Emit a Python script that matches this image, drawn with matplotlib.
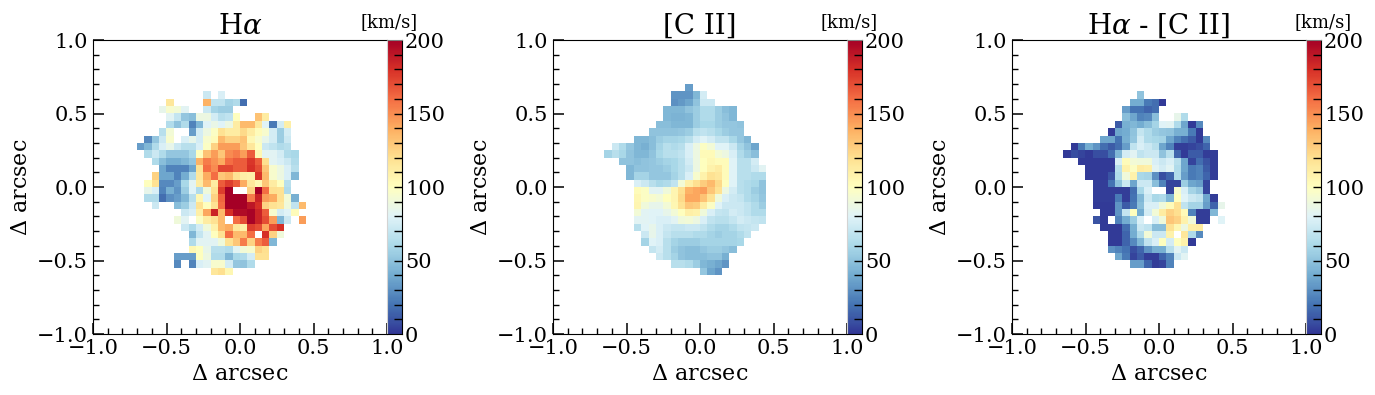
import matplotlib
matplotlib.use("Agg")
import matplotlib.pyplot as plt
import numpy as np

plt.rcParams["font.family"] = "DejaVu Serif"
plt.rcParams["mathtext.fontset"] = "dejavuserif"

n = np.nan
N_CELLS = 40

# row from top -> (first column, velocity dispersion in km/s)
halpha_rows = {
    7: (15, [72, n, 78]),
    8: (10, [115, n, n, n, n, 138, 68, 68, 58, 62, 18]),
    9: (9, [85, 95, 92, 82, n, n, 72, 58, 55, 55]),
    10: (10, [82, 70, 52, 48, 88, 88, 75, 65, 68, 100, n, n, 132, 112]),
    11: (10, [63, 50, 62, 25, 45, 80, 86, 80, 88, 112, 135, 135, 115, 80, 22, 75, 110]),
    12: (9, [65, 92, n, n, 35, 75, 88, 98, 118, 112, 112, 122, 112, 102, 95, 75, 55, 75]),
    13: (7, [28, 52, 72, 95, n, 78, 85, 75, 95, 102, 135, 125, 125, 132, 105, 95, 85, 75, 55, 72]),
    14: (6, [35, 45, 62, 78, 85, 72, 65, 65, 78, 98, 125, 145, 145, 145, 130, 115, 100, 72, 68, 62, 65]),
    15: (7, [62, 72, 62, 52, 52, 52, 60, 100, 132, 145, 130, 150, 155, 145, 165, 105, 82, 82, 75, 62, 60]),
    16: (8, [62, 48, 40, 40, 45, 52, 138, 155, 148, 140, 160, 165, 165, 178, 165, 120, 82, 78, 72, 62]),
    17: (9, [38, 25, 25, 25, 38, 118, 160, 150, 172, 172, 165, 165, 180, 170, 130, 95, 88, 78, 65]),
    18: (8, [125, 38, 38, 25, 40, 62, 115, 140, 160, 130, 135, 118, 110, 108, 178, 135, 95, 88, 78, 45]),
    19: (7, [100, 118, 28, 28, 35, 60, 82, 112, 135, 112, 165, 175, 165, 140, 115, 105, 130, 112, 100, 65]),
    20: (7, [85, 78, 25, 42, 32, 55, 80, 62, 90, 118, 175, 200, n, n, 125, 200, 160, 120, 118, 62]),
    21: (7, [62, 62, 18, 30, 35, 45, 65, 105, 80, 125, 162, 200, 200, 200, 155, 185, 145, 140, 118, 92, 42]),
    22: (8, [72, n, n, 48, 55, 72, 118, 100, 118, 160, 200, 200, 200, 190, 180, 125, 118, 115, 90, 68, 135]),
    23: (12, [72, 78, 110, 142, 185, 135, 180, 195, 195, 198, 185, 165, 95, 75, 80, 102]),
    24: (11, [90, 82, n, 98, 112, 118, 135, n, 160, 170, 198, 185, 170, 145, 45, 72, n, 145]),
    25: (12, [72, 62, 75, 90, 108, 135, 140, 115, 110, 175, 170, 142, 170, 180]),
    26: (13, [45, 70, 82, 100, 118, 160, 135, 135, 160, n, 180, 125, 90]),
    27: (13, [62, 82, 82, 82, 90, 118, 130, 155, 125, 155, 165, 45]),
    28: (13, [105, 100, 85, 65, 65, 62, 82, 92, 95, 125, 120]),
    29: (11, [35, 35, 35, 100, 88, 62, 62, 45, 60, 62, 75, 118, 118]),
    30: (11, [28, n, 25, 78, 82, 95, 95, 75, 52, 50, 62]),
    31: (16, [115, 120, 105]),
}

cii_rows = {
    6: (18, [35]),
    7: (16, [32, 32, 32, 45, 75]),
    8: (16, [30, 33, 38, 50, 72, 72]),
    9: (15, [45, 45, 45, 50, 55, 62, 62, 55, 48, 45]),
    10: (15, [45, 43, 43, 45, 55, 62, 62, 55, 50, 45]),
    11: (14, [48, 48, 45, 45, 45, 55, 60, 60, 55, 52, 52, 50]),
    12: (13, [50, 50, 50, 50, 52, 55, 65, 68, 65, 60, 55, 52, 52]),
    13: (11, [45, 45, 48, 55, 58, 58, 60, 65, 75, 80, 75, 68, 68, 60, 52, 45]),
    14: (8, [72, 62, 52, 45, 42, 48, 58, 65, 62, 65, 78, 88, 98, 92, 80, 80, 72, 58, 50, 38]),
    15: (7, [58, 65, 60, 50, 45, 45, 50, 60, 65, 65, 68, 78, 88, 103, 103, 92, 88, 78, 62, 55, 48]),
    16: (9, [50, 50, 48, 50, 52, 55, 58, 60, 65, 75, 88, 100, 105, 102, 102, 80, 65, 65, 75]),
    17: (10, [45, 50, 50, 52, 52, 55, 60, 65, 72, 88, 100, 108, 112, 102, 80, 65, 65, 72, 82]),
    18: (10, [45, 58, 58, 52, 52, 52, 58, 65, 78, 95, 108, 118, 115, 102, 80, 65, 65, 62, 62]),
    19: (11, [78, 72, 65, 60, 62, 68, 92, 110, 120, 128, 135, 122, 100, 80, 65, 62, 60, 50]),
    20: (11, [102, 98, 82, 82, 90, 106, 120, 138, 142, 145, 130, 118, 88, 75, 65, 62, 55, 50]),
    21: (11, [105, 98, 95, 92, 100, 106, 122, 142, 142, 132, 118, 90, 78, 72, 70, 62, 58, 52]),
    22: (11, [106, 90, 85, 85, 92, 105, 118, 130, 128, 112, 98, 80, 72, 72, 72, 68, 62, 55]),
    23: (11, [92, 82, 80, 80, 85, 92, 100, 110, 108, 90, 78, 70, 68, 75, 72, 68, 62, 62]),
    24: (11, [82, 82, 80, 78, 78, 82, 90, 92, 88, 78, 68, 65, 65, 70, 75, 72, 70, 68]),
    25: (11, [65, 80, 85, 78, 72, 70, 70, 72, 72, 68, 62, 58, 58, 62, 68, 70, 72]),
    26: (12, [72, 85, 78, 70, 65, 65, 65, 62, 62, 58, 55, 58, 58, 62, 68]),
    27: (12, [58, 80, 78, 65, 58, 55, 55, 55, 58, 58, 58, 58, 58, 60]),
    28: (13, [70, 75, 65, 55, 50, 48, 48, 52, 55, 55, 52, 48]),
    29: (14, [72, 65, 58, 50, 48, 48, 48, 50, 50, 42]),
    30: (16, [65, 65, 62, 55, 45, 42, 38, 32]),
    31: (20, [52, 38, 32]),
}

diff_rows = {
    7: (17, [50]),
    8: (16, [40, 40, 22, 18, 2]),
    9: (15, [35, 20, 20, 15, 18]),
    10: (15, [48, 38, 25, 28, 48, n, n, 85, 62]),
    11: (14, [12, 42, 45, 40, 48, 58, 80, 82, 62, 38, 2, 28]),
    12: (13, [2, 38, 40, 50, 70, 62, 55, 52, 50, 42, 42, 22, 2]),
    13: (12, [38, 38, 20, 42, 52, 75, 62, 60, 58, 38, 25, 18, 12, 2, 28]),
    14: (8, [2, 22, 40, 32, 18, 12, 18, 35, 68, 78, 72, 65, 38, 25, 3, 3, 5, 8, 15]),
    15: (7, [2, 8, 5, 2, 8, 8, 18, 45, 75, 82, 68, 72, 72, 50, 65, 15, 2, 12, 12, 3, 3]),
    16: (9, [2, 2, 2, 2, 2, 78, 102, 92, 90, 90, 78, 72, 78, 65, 38, 5, 18, 10, 3]),
    17: (10, [2, 2, 2, 2, 65, 108, 98, 112, 110, 82, 75, 82, 62, 38, 22, 25, 12, 3]),
    18: (10, [2, 2, 2, 10, 62, 90, 108, 60, 58, 30, 8, 15, 62, 35, 22, 25, 15, 3]),
    19: (11, [3, 3, 20, 50, 72, 38, 72, 72, 48, 25, 5, 5, 55, 38, 35, 5]),
    20: (11, [3, 3, 3, 3, 3, 18, 60, 78, n, n, 5, 95, 78, 58, 52, 5]),
    21: (11, [3, 3, 3, 22, 3, 20, 45, 72, 60, 62, 45, 100, 80, 72, 68, 38, 3]),
    22: (11, [2, 2, 2, 32, 12, 22, 48, 78, 78, 90, 102, 118, 68, 58, 58, 35, 15, 85]),
    23: (12, [2, 2, 32, 70, 100, 40, 75, 92, 112, 125, 120, 103, 25, 3, 3, 45]),
    24: (11, [10, 2, n, 25, 40, 55, 78, n, 78, 90, 130, 125, 108, 90, 3, 3, n, 80]),
    25: (12, [2, 2, 2, 18, 42, 72, 68, 48, 48, 118, 105, 88, 110, 112]),
    26: (13, [2, 2, 15, 40, 62, 92, 72, 72, 108, n, 115, 62, 28]),
    27: (13, [2, 2, 15, 28, 45, 68, 78, 100, 75, 100, 108, 2]),
    28: (13, [30, 25, 20, 8, 15, 32, 42, 42, 65, 82, 72]),
    29: (14, [38, 22, 5, 12, 3, 3, 15, 25, 72, 82]),
    30: (16, [35, 35, 15, 3, 5, 25]),
}

titles = [r"H$\alpha$", "[C II]", r"H$\alpha$ - [C II]"]
panels = [halpha_rows, cii_rows, diff_rows]
ax_lefts = [93, 553, 1012]  # px
unit_x = [0.2, 0.2, 1.17]  # [km/s] position in colorbar axes fraction
W, H = 1375, 395


def to_grid(rows):
    grid = np.full((N_CELLS, N_CELLS), np.nan)
    for r, (start, vals) in rows.items():
        grid[r, start:start + len(vals)] = vals
    return grid


fig = plt.figure(figsize=(W / 100, H / 100), dpi=100)

for rows, title, left, ux in zip(panels, titles, ax_lefts, unit_x):
    ax = fig.add_axes([left / W, (H - 334) / H, 294 / W, 294 / H])
    cax = fig.add_axes([(left + 293.5) / W, (H - 334) / H, 15 / W, 294 / H])

    im = ax.imshow(to_grid(rows), cmap="RdYlBu_r", vmin=0, vmax=200,
                   extent=[-1, 1, -1, 1], origin="upper",
                   interpolation="nearest", aspect="auto")
    ax.set_xlim(-1, 1)
    ax.set_ylim(-1, 1)
    ax.set_xticks(np.arange(-1, 1.01, 0.5))
    ax.set_yticks(np.arange(-1, 1.01, 0.5))
    ax.set_xticks(np.arange(-1, 1.01, 0.1), minor=True)
    ax.set_yticks(np.arange(-1, 1.01, 0.1), minor=True)
    ax.tick_params(which="major", direction="in", length=8, width=1.1, labelsize=15)
    ax.tick_params(which="minor", direction="in", length=4, width=1.0)
    ax.spines["right"].set_visible(False)
    ax.set_title(title, fontsize=20, pad=3)
    ax.set_xlabel(r"$\Delta$ arcsec", fontsize=16, labelpad=4)
    ax.set_ylabel(r"$\Delta$ arcsec", fontsize=16, labelpad=4)

    cb = fig.colorbar(im, cax=cax)
    cb.set_ticks(np.arange(0, 201, 50))
    cb.set_ticks(np.arange(10, 200, 10), minor=True)
    cax.tick_params(which="major", direction="in", length=5.5, width=1.0, labelsize=15, pad=2.5)
    cax.tick_params(which="minor", direction="in", length=5.5, width=1.0)
    major = cax.yaxis.get_major_ticks()
    for t in (major[0], major[-1]):
        t.tick2line.set_visible(False)
    cb.outline.set_visible(False)
    for side, col in [("right", "black"), ("bottom", "black"), ("top", "gray"), ("left", "lightgray")]:
        cax.spines[side].set_visible(True)
        cax.spines[side].set_color(col)
        cax.spines[side].set_linewidth(0.8)
    cax.text(ux, 1.03, "[km/s]", transform=cax.transAxes, ha="center", va="bottom", fontsize=13)

fig.savefig("out.png", dpi=100)
